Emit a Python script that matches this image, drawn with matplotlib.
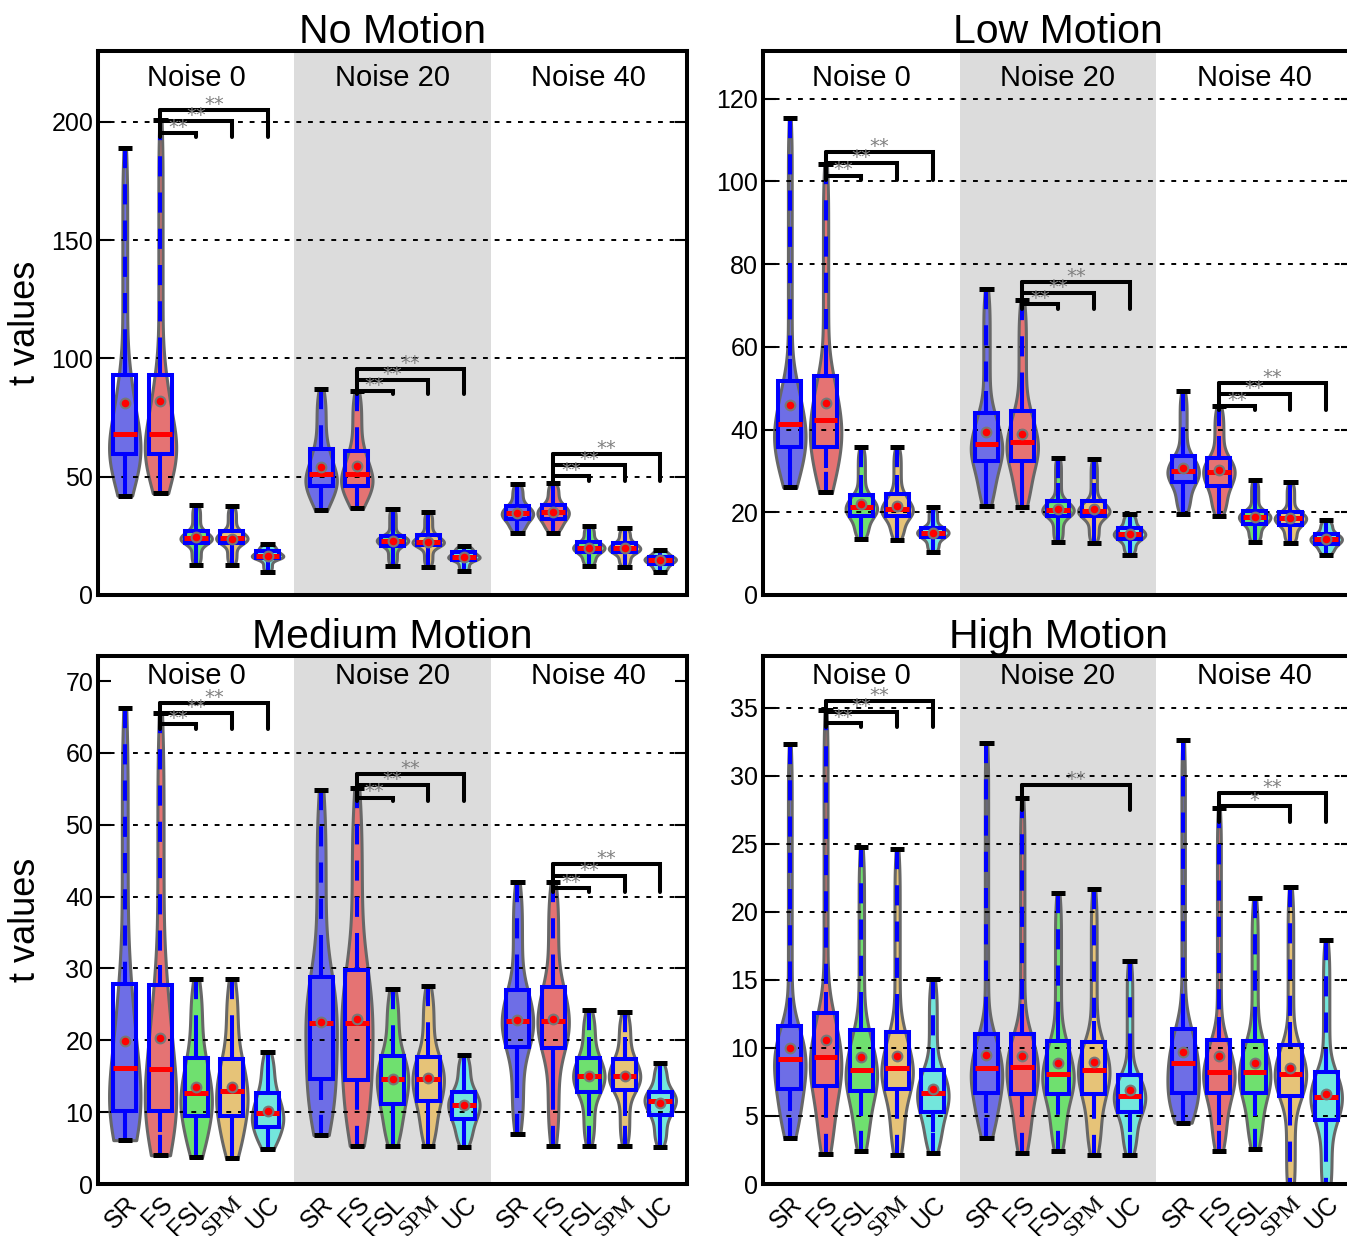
import numpy as np
import matplotlib.pyplot as plt
from matplotlib.patches import Rectangle

plt.rcParams['font.family'] = ['Liberation Sans', 'DejaVu Sans']

# panels: No / Low / Medium / High motion; groups: Noise 0 / 20 / 40
titles = ["No Motion", "Low Motion", "Medium Motion", "High Motion"]
noise_labels = ["Noise 0", "Noise 20", "Noise 40"]
methods = ["SR", "FS", "FSL", "SPM", "UC"]
colors = ['#6e6ee6', '#e57373', '#6fe06f', '#e6c378', '#73e6dc']
ytop = [230, 131.5, 73.5, 38.8]
yticks = [[0, 50, 100, 150, 200], [0, 20, 40, 60, 80, 100, 120],
          [0, 10, 20, 30, 40, 50, 60, 70], [0, 5, 10, 15, 20, 25, 30, 35]]
grid_vals = [[50, 100, 150, 200], [20, 40, 60, 80, 100, 120],
             [10, 20, 30, 40, 50, 60], [5, 10, 15, 20, 25, 30, 35]]

t_min = [
    [[42, 43, 12.7, 12.7, 9.7], [35.9, 36.7, 12.4, 12, 10], [26.4, 26.4, 12.4, 12, 9.6]],
    [[26, 24.8, 13.5, 13.3, 10.3], [21.6, 21.3, 12.7, 12.6, 9.7], [19.6, 19.2, 12.7, 12.5, 9.7]],
    [[6.1, 4, 3.7, 3.6, 4.9], [6.8, 5.3, 5.3, 5.3, 5.2], [7, 5.3, 5.3, 5.3, 5.2]],
    [[3.4, 2.2, 2.4, 2.1, 2.3], [3.4, 2.3, 2.4, 2.1, 2.1], [4.5, 2.4, 2.6, -1.0, -1.0]],
]
t_max = [
    [[189, 201, 38, 37.5, 21.5], [87.3, 86.2, 36.3, 35, 20.8], [47, 47.5, 29.3, 28.3, 19]],
    [[115.3, 104.3, 35.7, 35.7, 21.2], [73.9, 71.3, 33.2, 32.8, 19.6], [49.3, 45.7, 27.8, 27.2, 18.1]],
    [[66.3, 65.6, 28.5, 28.6, 18.4], [54.9, 55.1, 27.2, 27.5, 18.0], [42, 42, 24.2, 23.9, 16.9]],
    [[32.3, 34.8, 24.8, 24.6, 15.1], [32.4, 28.4, 21.4, 21.7, 16.4], [32.6, 27.6, 21, 21.8, 17.9]],
]
t_q1 = [
    [[59.5, 59.5, 22, 22, 15.5], [46, 46, 20.8, 21, 15], [32, 32, 18, 18, 13]],
    [[35.7, 35.8, 19.2, 19.2, 13.9], [32.4, 32.4, 19.2, 19, 13.5], [27.2, 26.4, 17.1, 16.9, 12.3]],
    [[10.2, 10.2, 9.4, 9.4, 8], [14.6, 14.5, 11.2, 11.5, 9], [19.1, 18.9, 12.8, 13.1, 9.6]],
    [[7.0, 7.2, 6.8, 7.0, 5.3], [6.7, 6.6, 6.6, 6.6, 5.3], [6.7, 6.7, 6.7, 6.5, 4.7]],
]
t_median = [
    [[68, 68, 24, 24, 16.5], [51, 51, 23, 22.4, 16], [34.6, 34.9, 20, 19.7, 14.8]],
    [[41.3, 42.3, 21.2, 20.9, 15.1], [36.6, 36.9, 20.6, 20.4, 14.7], [30, 29.8, 18.8, 18.5, 13.5]],
    [[16.1, 16, 12.7, 12.9, 9.9], [22.4, 22.4, 14.6, 14.6, 11], [22.7, 22.7, 15, 15, 11.5]],
    [[9.2, 9.3, 8.4, 8.5, 6.7], [8.5, 8.6, 8.1, 8.4, 6.5], [8.9, 8.2, 8.2, 8.1, 6.4]],
]
t_q3 = [
    [[93, 93, 27, 27, 18.5], [61.6, 61, 25, 25.5, 18], [37.7, 38, 22.2, 22, 16]],
    [[51.7, 53, 24.1, 24.3, 16.3], [44.1, 44.5, 22.8, 22.7, 16.1], [33.6, 33, 20.2, 20, 14.7]],
    [[27.9, 27.7, 17.5, 17.4, 12.7], [28.8, 29.8, 17.8, 17.7, 12.8], [27, 27.4, 17.5, 17.4, 12.8]],
    [[11.6, 12.6, 11.3, 11.2, 8.4], [11, 11, 10.5, 10.4, 8], [11.4, 10.6, 10.5, 10.2, 8.2]],
]
t_mean = [
    [[81, 82, 24.5, 23.5, 16.5], [54, 54.5, 23, 22.5, 16], [34.5, 35, 20, 19.7, 14.8]],
    [[45.9, 46.5, 22, 21.6, 15.1], [39.3, 38.9, 20.9, 20.8, 14.7], [30.7, 30.2, 18.8, 18.5, 13.5]],
    [[19.9, 20.3, 13.5, 13.5, 10.2], [22.6, 22.9, 14.6, 14.8, 11], [22.8, 22.9, 15, 15, 11.3]],
    [[10, 10.6, 9.3, 9.4, 7.0], [9.5, 9.4, 8.9, 9.0, 6.9], [9.7, 9.4, 8.9, 8.5, 6.6]],
]
t_whislo = [
    [[49, 50, 16, 16, 12], [38.4, 38, 16, 16, 12], [29, 29, 15, 15, 11]],
    [[30.4, 30.8, 16, 16, 12], [24.8, 24.8, 15.5, 15.5, 11.5], [22.4, 22.4, 14.5, 14.5, 11]],
    [[7.3, 7.3, 6, 6, 5.5], [11.7, 11.5, 8, 8, 6.1], [12, 12, 9.4, 9.4, 7]],
    [[5.4, 5.5, 5, 5.3, 3.8], [5.2, 5, 5.2, 5.2, 3.8], [5.1, 4.3, 5, 4.7, 3]],
]
t_whishi = [
    [[105, 105, 33, 32, 20], [70, 70, 31, 30, 19], [42, 42, 25, 25, 17.5]],
    [[57, 57.8, 29, 29, 19], [49.3, 50, 27, 27, 18], [38.9, 38.4, 24, 23.5, 16.5]],
    [[30.7, 30.5, 21, 21, 16], [31.9, 32.8, 20.7, 20.7, 16.1], [29.8, 30.2, 20.5, 20.5, 15.9]],
    [[13.5, 14.1, 12.9, 12.6, 10], [13, 13.2, 12.2, 12, 9.6], [13, 12.3, 12.1, 11.9, 9.7]],
]

# significance brackets FS vs others: (base, [(target index, height, label)])
sig_brackets = [
    [(193.5, [(2, 195.5, '**'), (3, 200.4, '**'), (4, 205, '**')]),
     (84.8, [(2, 86.2, '**'), (3, 91, '**'), (4, 95.6, '**')]),
     (48.2, [(2, 50.3, '**'), (3, 54.9, '**'), (4, 59.5, '**')])],
    [(100.4, [(2, 101.4, '**'), (3, 104.5, '**'), (4, 107.1, '**')]),
     (69.2, [(2, 70.4, '**'), (3, 73.1, '**'), (4, 75.7, '**')]),
     (44.7, [(2, 45.7, '**'), (3, 48.5, '**'), (4, 51.3, '**')])],
    [(63.3, [(2, 64, '**'), (3, 65.5, '**'), (4, 67, '**')]),
     (53.3, [(2, 53.8, '**'), (3, 55.5, '**'), (4, 57.1, '**')]),
     (40.7, [(2, 41.2, '**'), (3, 42.9, '**'), (4, 44.5, '**')])],
    [(33.6, [(2, 33.9, '**'), (3, 34.7, '**'), (4, 35.5, '**')]),
     (27.5, [(4, 29.3, '**')]),
     (26.6, [(3, 27.8, '*'), (4, 28.7, '**')])],
]

GW = 5.5


def xpos(g, i):
    return g * GW + 0.75 + i


def violin_width(vmin, q1, med, q3, vmax, n=300):
    # density shape built from the read quartiles, lightly smoothed
    ys = np.linspace(vmin, vmax, n)
    knots = [vmin, q1, med, q3, vmax]
    dens = np.zeros(n)
    for a, b in zip(knots[:-1], knots[1:]):
        m = (ys >= a) & (ys <= b)
        dens[m] = 0.25 / max(b - a, 1e-6)
    sigma = max(0.33 * (q3 - q1), 0.02 * (vmax - vmin))
    kern = np.exp(-0.5 * ((ys[:, None] - ys[None, :]) / sigma) ** 2)
    sm = kern @ dens
    return ys, sm / sm.max() * 0.44


def draw_violin(ax, x, c, vmin, q1, med, q3, vmax, mean, wlo, whi):
    ys, w = violin_width(vmin, q1, med, q3, vmax)
    ax.fill_betweenx(ys, x - w, x + w, facecolor=c, edgecolor='#676767', lw=2.2, zorder=3)
    ax.plot([x, x], [vmax, q3], color='blue', lw=2.9, dashes=(5, 4), zorder=4)
    ax.plot([x, x], [vmin, q1], color='blue', lw=2.9, dashes=(5, 4), zorder=4)
    ax.plot([x, x], [wlo, q1], color='blue', lw=2.9, solid_capstyle='butt', zorder=5)
    ax.plot([x, x], [q3, whi], color='blue', lw=2.9, solid_capstyle='butt', zorder=5)
    ax.add_patch(Rectangle((x - 0.32, q1), 0.64, q3 - q1, fill=False, ec='blue', lw=2.9, zorder=5))
    ax.plot([x - 0.33, x + 0.33], [med, med], color='red', lw=3.6, solid_capstyle='butt', zorder=6)
    ax.plot(x, mean, 'o', ms=7, mfc='red', mec='#777777', mew=1.5, zorder=7)
    for v in (vmin, vmax):
        ax.plot([x - 0.2, x + 0.2], [v, v], color='black', lw=3.6, solid_capstyle='butt', zorder=6)


rects = [
    [98 / 1347, 1 - 595 / 1236, 589 / 1347, 544 / 1236],
    [763 / 1347, 1 - 595 / 1236, 590 / 1347, 544 / 1236],
    [98 / 1347, 1 - 1184 / 1236, 589 / 1347, 528 / 1236],
    [763 / 1347, 1 - 1184 / 1236, 590 / 1347, 528 / 1236],
]
noise_y = [0.950, 0.950, 0.962, 0.962]

fig = plt.figure(figsize=(13.47, 12.36), dpi=100)

for p in range(4):
    ax = fig.add_axes(rects[p])
    ax.set_xlim(0, 3 * GW)
    ax.set_ylim(0, ytop[p])
    ax.axvspan(GW, 2 * GW, color='#dcdcdc', lw=0, zorder=0)
    for t in grid_vals[p]:
        ax.axhline(t, color='black', lw=1.4, linestyle=(0, (2.5, 3.5)), zorder=3.5)

    for g in range(3):
        for i in range(5):
            draw_violin(ax, xpos(g, i), colors[i],
                        t_min[p][g][i], t_q1[p][g][i], t_median[p][g][i], t_q3[p][g][i],
                        t_max[p][g][i], t_mean[p][g][i], t_whislo[p][g][i], t_whishi[p][g][i])
        base, lines = sig_brackets[p][g]
        xf = xpos(g, 1)
        top = max(l[1] for l in lines)
        ax.plot([xf, xf], [base, top], color='black', lw=2.9, solid_capstyle='round', zorder=8)
        for tgt, yl, lab in lines:
            xt = xpos(g, tgt)
            ax.plot([xf, xt, xt], [yl, yl, base], color='black', lw=2.9,
                    solid_capstyle='round', solid_joinstyle='miter', zorder=8)
            ax.annotate(lab, ((xf + xt) / 2, yl), xytext=(0, 4), textcoords='offset points',
                        ha='center', va='center', color='#808080', fontsize=14,
                        family='DejaVu Sans', zorder=9)
        ax.text(g * GW + GW / 2, noise_y[p], noise_labels[g], transform=ax.get_xaxis_transform(),
                ha='center', va='center', fontsize=21, zorder=9)

    ax.set_yticks(yticks[p])
    ax.tick_params(axis='y', direction='in', length=9, width=1.5, labelsize=18, right=True)
    xs = [xpos(g, i) for g in range(3) for i in range(5)]
    ax.set_xticks(xs)
    if p >= 2:
        ax.set_xticklabels(methods * 3)
        for k, lab in enumerate(ax.get_xticklabels()):
            lab.set_rotation(45)
            lab.set_ha('right')
            lab.set_va('top')
            lab.set_rotation_mode('anchor')
            if methods[k % 5] == 'SPM':
                lab.set_family('Liberation Serif')
                lab.set_fontsize(17)
            else:
                lab.set_fontsize(18)
        ax.tick_params(axis='x', length=0, pad=6)
    else:
        ax.set_xticklabels([])
        ax.tick_params(axis='x', length=0)
    for s in ax.spines.values():
        s.set_linewidth(2.9)
        s.set_zorder(10)
    ax.set_title(titles[p], fontsize=29.5, pad=4)
    if p % 2 == 0:
        ax.set_ylabel("t values", fontsize=26)
        ax.yaxis.set_label_coords(-0.093, 0.5)

fig.savefig("out.png", dpi=100)
